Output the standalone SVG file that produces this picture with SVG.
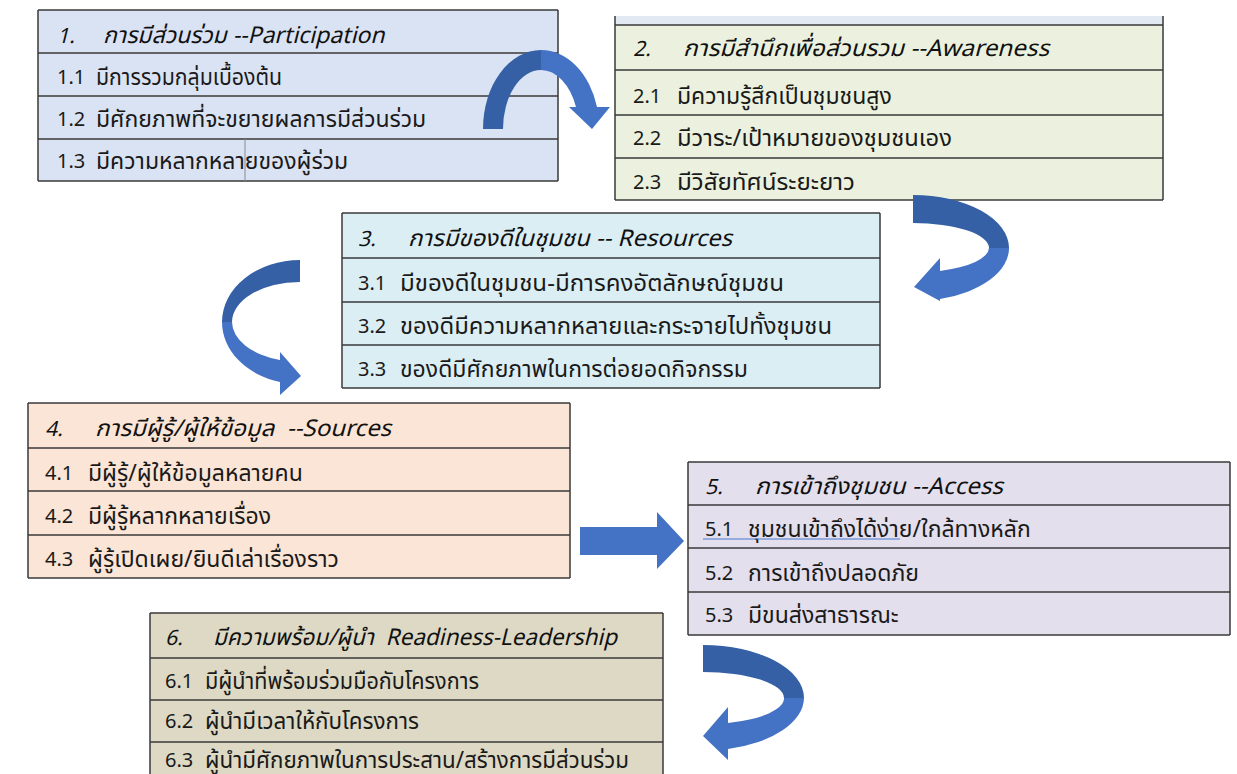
<svg xmlns="http://www.w3.org/2000/svg" width="1237" height="774" viewBox="0 0 1237 774">
<style>
  text { font-family: "Noto Sans Thai", "Noto Sans", "DejaVu Sans", sans-serif; font-size: 23px; fill: #1a1a1a; }
  .n { font-size: 20px; }
  .h { font-style: italic; font-size: 23px; fill: #111; }
  .hn { font-style: italic; font-size: 21px; fill: #111; }
  .ln { stroke: #3a3a3a; stroke-width: 1.5; fill: none; }
  .dk { fill: #3560A6; }
  .lt { fill: #4472C4; }
</style>
<rect width="1237" height="774" fill="#ffffff"/>

<g id="node1">
  <rect x="38" y="10" width="520" height="171" fill="#DAE3F3"/>
  <path class="ln" d="M38,10 H558 M38,53 H558 M38,96 H558 M38,139 H558 M38,181 H558 M38,10 V181 M558,10 V181"/>
  <path d="M245,139 V181" stroke="#8a8a8a" stroke-width="1"/>
  <text class="hn" x="57" y="43">1.</text><text class="h" x="103" y="43">การมีส่วนร่วม --Participation</text>
  <text class="n" x="57" y="84">1.1</text><text x="96" y="85" textLength="186" lengthAdjust="spacingAndGlyphs">มีการรวมกลุ่มเบื้องต้น</text>
  <text class="n" x="57" y="126">1.2</text><text x="96" y="127">มีศักยภาพที่จะขยายผลการมีส่วนร่วม</text>
  <text class="n" x="57" y="168">1.3</text><text x="96" y="169">มีความหลากหลายของผู้ร่วม</text>
</g>

<g id="node2">
  <rect x="615" y="16" width="548" height="9" fill="#E3E9F2"/>
  <rect x="615" y="25" width="548" height="175" fill="#EBF1DE"/>
  <path class="ln" d="M615,25 H1163 M615,70 H1163 M615,115 H1163 M615,158 H1163 M615,200 H1163 M615,16 V200 M1163,16 V200"/>
  <text class="hn" x="633" y="56">2.</text><text class="h" x="683" y="56" textLength="366" lengthAdjust="spacingAndGlyphs">การมีสำนึกเพื่อส่วนรวม --Awareness</text>
  <text class="n" x="633" y="103">2.1</text><text x="677" y="104">มีความรู้สึกเป็นชุมชนสูง</text>
  <text class="n" x="633" y="145">2.2</text><text x="677" y="146" textLength="275" lengthAdjust="spacingAndGlyphs">มีวาระ/เป้าหมายของชุมชนเอง</text>
  <text class="n" x="633" y="189">2.3</text><text x="677" y="190" textLength="178" lengthAdjust="spacingAndGlyphs">มีวิสัยทัศน์ระยะยาว</text>
</g>

<g id="node3">
  <rect x="342" y="213" width="538" height="175" fill="#DBEEF4"/>
  <path class="ln" d="M342,213 H880 M342,258 H880 M342,302 H880 M342,345 H880 M342,388 H880 M342,213 V388 M880,213 V388"/>
  <text class="hn" x="358" y="246">3.</text><text class="h" x="408" y="246" textLength="324" lengthAdjust="spacingAndGlyphs">การมีของดีในชุมชน -- Resources</text>
  <text class="n" x="358" y="290">3.1</text><text x="400" y="291" textLength="384" lengthAdjust="spacingAndGlyphs">มีของดีในชุมชน-มีการคงอัตลักษณ์ชุมชน</text>
  <text class="n" x="358" y="333">3.2</text><text x="400" y="334" textLength="432" lengthAdjust="spacingAndGlyphs">ของดีมีความหลากหลายและกระจายไปทั้งชุมชน</text>
  <text class="n" x="358" y="376">3.3</text><text x="400" y="377">ของดีมีศักยภาพในการต่อยอดกิจกรรม</text>
</g>

<g id="node4">
  <rect x="28" y="403" width="542" height="175" fill="#FBE5D6"/>
  <path class="ln" d="M28,403 H570 M28,448 H570 M28,491 H570 M28,535 H570 M28,578 H570 M28,403 V578 M570,403 V578"/>
  <text class="hn" x="45" y="436">4.</text><text class="h" x="95" y="436" textLength="296" lengthAdjust="spacingAndGlyphs">การมีผู้รู้/ผู้ให้ข้อมูล&#160; --Sources</text>
  <text class="n" x="45" y="480">4.1</text><text x="88" y="481">มีผู้รู้/ผู้ให้ข้อมูลหลายคน</text>
  <text class="n" x="45" y="523">4.2</text><text x="88" y="524">มีผู้รู้หลากหลายเรื่อง</text>
  <text class="n" x="45" y="566">4.3</text><text x="88" y="567">ผู้รู้เปิดเผย/ยินดีเล่าเรื่องราว</text>
</g>

<g id="node5">
  <rect x="688" y="462" width="542" height="173" fill="#E4DFEC"/>
  <path class="ln" d="M688,462 H1230 M688,505 H1230 M688,548 H1230 M688,592 H1230 M688,635 H1230 M688,462 V635 M1230,462 V635"/>
  <text class="hn" x="705" y="494">5.</text><text class="h" x="755" y="494" textLength="248" lengthAdjust="spacingAndGlyphs">การเข้าถึงชุมชน --Access</text>
  <text class="n" x="705" y="536">5.1</text><text x="748" y="537">ชุมชนเข้าถึงได้ง่าย/ใกล้ทางหลัก</text>
  <path d="M703,539 H900" stroke="#4A7BD0" stroke-width="1.2"/>
  <text class="n" x="705" y="580">5.2</text><text x="748" y="581">การเข้าถึงปลอดภัย</text>
  <text class="n" x="705" y="622">5.3</text><text x="748" y="623">มีขนส่งสาธารณะ</text>
</g>

<g id="node6">
  <rect x="150" y="613" width="513" height="161" fill="#DDD9C4"/>
  <path class="ln" d="M150,613 H663 M150,658 H663 M150,700 H663 M150,742 H663 M150,613 V774 M663,613 V774"/>
  <text class="hn" x="165" y="645">6.</text><text class="h" x="213" y="645" textLength="404" lengthAdjust="spacingAndGlyphs">มีความพร้อม/ผู้นำ&#160; Readiness-Leadership</text>
  <text class="n" x="165" y="688">6.1</text><text x="205" y="689" textLength="274" lengthAdjust="spacingAndGlyphs">มีผู้นำที่พร้อมร่วมมือกับโครงการ</text>
  <text class="n" x="165" y="728">6.2</text><text x="205" y="729" textLength="214" lengthAdjust="spacingAndGlyphs">ผู้นำมีเวลาให้กับโครงการ</text>
  <text class="n" x="165" y="767">6.3</text><text x="205" y="768" textLength="424" lengthAdjust="spacingAndGlyphs">ผู้นำมีศักยภาพในการประสาน/สร้างการมีส่วนร่วม</text>
</g>

<g id="connectors">
  <!-- 1 -> 2 -->
  <path class="dk" d="M483,129 A58,79 0 0 1 541,50 L541,70 A38,59 0 0 0 503,129 Z"/>
  <path class="lt" d="M541,50 A58,79 0 0 1 597,107 L610,107 L592,129 L569,107 L576,107 A38,59 0 0 0 541,70 Z"/>
  <!-- 2 -> 3 -->
  <path class="dk" d="M913,195 A96,53 0 0 1 1009,248 L989,248 A76,25 0 0 0 913,223 Z"/>
  <path class="lt" d="M1009,248 A96,53 0 0 1 940,299 L940,301 L914,287 L940,258 L940,271 A76,25 0 0 0 989,248 Z"/>
  <!-- 3 -> 4 -->
  <path class="dk" d="M300,260 A78,62 0 0 0 222,322 L232,322 A68,40 0 0 1 300,282 Z"/>
  <path class="lt" d="M222,322 A78,62 0 0 0 280,382 L280,395 L301,376 L280,352 L280,360 A68,40 0 0 1 232,322 Z"/>
  <!-- 4 -> 5 -->
  <path class="lt" d="M580,527 L657,527 L657,512 L684,541 L657,569 L657,555 L580,555 Z"/>
  <!-- 5 -> 6 -->
  <path class="dk" d="M703,645 A101,53 0 0 1 804,698 L784,698 A81,26 0 0 0 703,672 Z"/>
  <path class="lt" d="M804,698 A101,53 0 0 1 728,749 L728,760 L703,736 L728,707 L728,723 A81,26 0 0 0 784,698 Z"/>
</g>
</svg>
